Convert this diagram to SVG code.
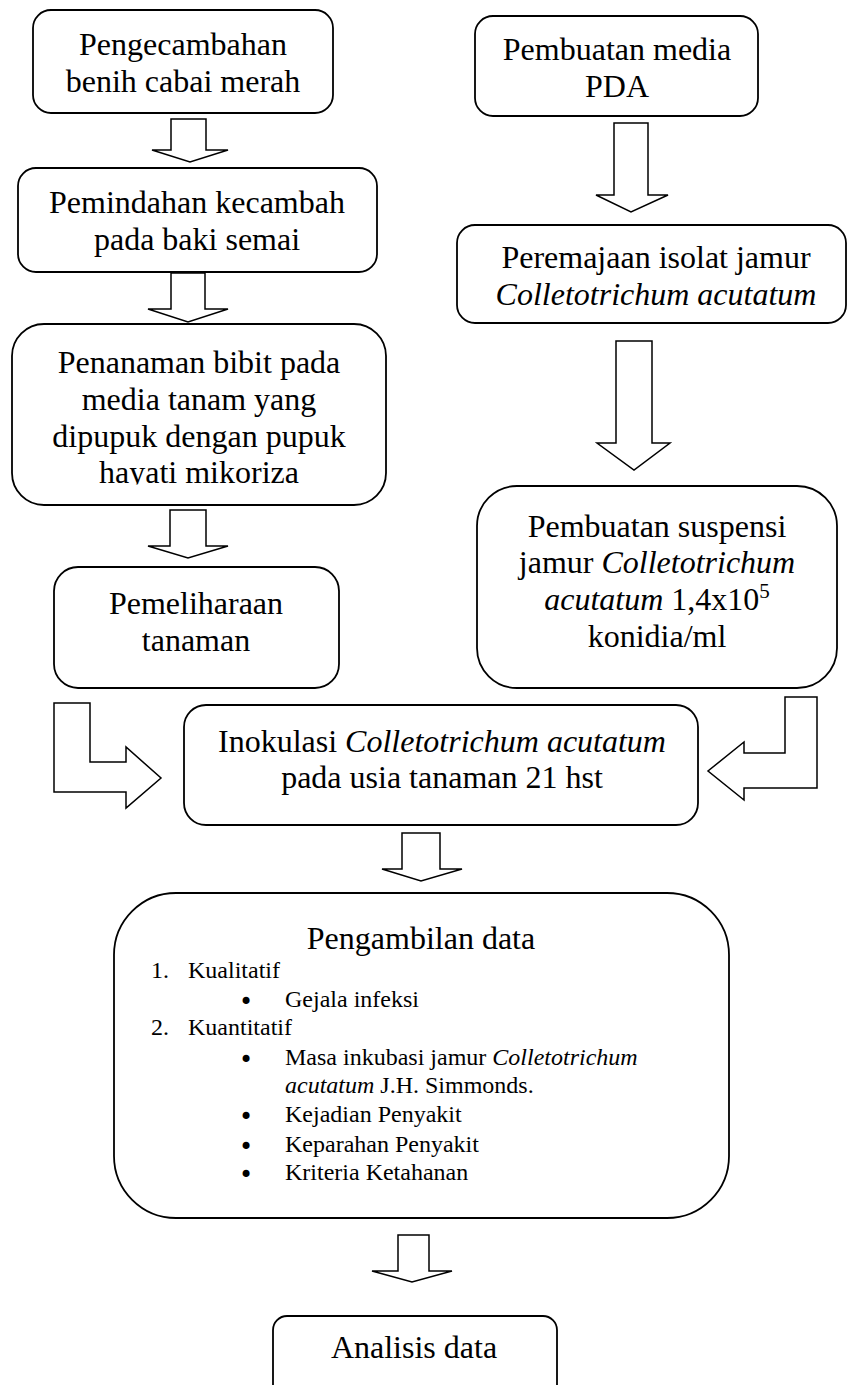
<svg xmlns="http://www.w3.org/2000/svg" width="847" height="1385" viewBox="0 0 847 1385">
<style>
.box{fill:#fff;stroke:#000;stroke-width:1.8}
.arr{fill:#fff;stroke:#000;stroke-width:1.5;stroke-linejoin:miter}
text{font-family:"Liberation Serif","Times New Roman",serif;fill:#000}
.t{font-size:32px;text-anchor:middle}
.s{font-size:24px}
.b{font-family:"DejaVu Sans",sans-serif;font-size:24px}
.i{font-style:italic}
</style>
<defs>
<clipPath id="clip3"><rect x="0" y="0" width="847" height="484.5"/></clipPath>
</defs>
<rect width="847" height="1385" fill="#fff"/>
<g id="connectors">
<polygon class="arr" points="171,119 206,119 206,150 228,150 190,162 152,150 171,150"/>
<polygon class="arr" points="171,273 205,273 205,309 228,309 188,322 148,309 171,309"/>
<polygon class="arr" points="170,510 206,510 206,546 228,546 188,558 148,546 170,546"/>
<polygon class="arr" points="614,123 648,123 648,195 668,195 631,212 596,195 614,195"/>
<polygon class="arr" points="616,341 652,341 652,443 670,443 634,470 597,443 616,443"/>
<polygon class="arr" points="402,833 440,833 440,869 462,869 421,881 382,869 402,869"/>
<polygon class="arr" points="398,1235 429,1235 429,1271 452,1271 412,1282 372,1271 398,1271"/>
<polygon class="arr" points="54,703 90,703 90,762 126,762 126,747 161,778 126,808 126,792 54,792"/>
<polygon class="arr" points="785,697 817,697 817,788 744,788 744,800 708,771 744,742 744,753 785,753"/>
</g>
<g id="n1">
<rect class="box" x="33" y="10" width="300" height="103" rx="18"/>
<text class="t" x="183" y="55">Pengecambahan</text>
<text class="t" x="183" y="92">benih cabai merah</text>
</g>
<g id="n2">
<rect class="box" x="18" y="168" width="359" height="104" rx="18"/>
<text class="t" x="197" y="213">Pemindahan kecambah</text>
<text class="t" x="197" y="250">pada baki semai</text>
</g>
<g id="n3">
<rect class="box" x="12" y="324" width="374" height="181" rx="32"/>
<text class="t" x="199" y="373">Penanaman bibit pada</text>
<text class="t" x="199" y="410">media tanam yang</text>
<text class="t" x="199" y="447">dipupuk dengan pupuk</text>
<text class="t" x="199" y="483" clip-path="url(#clip3)">hayati mikoriza</text>
</g>
<g id="n4">
<rect class="box" x="54" y="567" width="285" height="121" rx="24"/>
<text class="t" x="196" y="614">Pemeliharaan</text>
<text class="t" x="196" y="651">tanaman</text>
</g>
<g id="n5">
<rect class="box" x="475" y="16" width="283" height="100" rx="18"/>
<text class="t" x="617" y="60">Pembuatan media</text>
<text class="t" x="617" y="97">PDA</text>
</g>
<g id="n6">
<rect class="box" x="457" y="225" width="389" height="98" rx="18"/>
<text class="t" x="656" y="268">Peremajaan isolat jamur</text>
<text class="t i" x="656" y="305">Colletotrichum acutatum</text>
</g>
<g id="n7">
<rect class="box" x="477" y="486" width="360" height="202" rx="40"/>
<text class="t" x="657" y="537">Pembuatan suspensi</text>
<text class="t" x="657" y="573">jamur <tspan class="i">Colletotrichum</tspan></text>
<text class="t" x="657" y="610"><tspan class="i">acutatum</tspan> 1,4x10<tspan font-size="21" dy="-12">5</tspan></text>
<text class="t" x="657" y="647">konidia/ml</text>
</g>
<g id="n8">
<rect class="box" x="184" y="705" width="514" height="120" rx="22"/>
<text class="t" x="442" y="752">Inokulasi <tspan class="i">Colletotrichum acutatum</tspan></text>
<text class="t" x="442" y="788">pada usia tanaman 21 hst</text>
</g>
<g id="n9">
<rect class="box" x="114" y="893" width="615" height="325" rx="62"/>
<text class="t" x="421" y="949">Pengambilan data</text>
<text class="s" x="151" y="978">1.</text>
<text class="s" x="188" y="978">Kualitatif</text>
<text class="b" x="239" y="1010">•</text>
<text class="s" x="285" y="1007">Gejala infeksi</text>
<text class="s" x="151" y="1035">2.</text>
<text class="s" x="188" y="1035">Kuantitatif</text>
<text class="b" x="239" y="1068">•</text>
<text class="s" x="285" y="1065">Masa inkubasi jamur <tspan class="i">Colletotrichum</tspan></text>
<text class="s" x="285" y="1093"><tspan class="i">acutatum</tspan> J.H. Simmonds.</text>
<text class="b" x="239" y="1125">•</text>
<text class="s" x="285" y="1122">Kejadian Penyakit</text>
<text class="b" x="239" y="1155">•</text>
<text class="s" x="285" y="1152">Keparahan Penyakit</text>
<text class="b" x="239" y="1183">•</text>
<text class="s" x="285" y="1180">Kriteria Ketahanan</text>
</g>
<g id="n10">
<rect class="box" x="273" y="1316" width="284" height="100" rx="14"/>
<text class="t" x="414" y="1358">Analisis data</text>
</g>
</svg>
